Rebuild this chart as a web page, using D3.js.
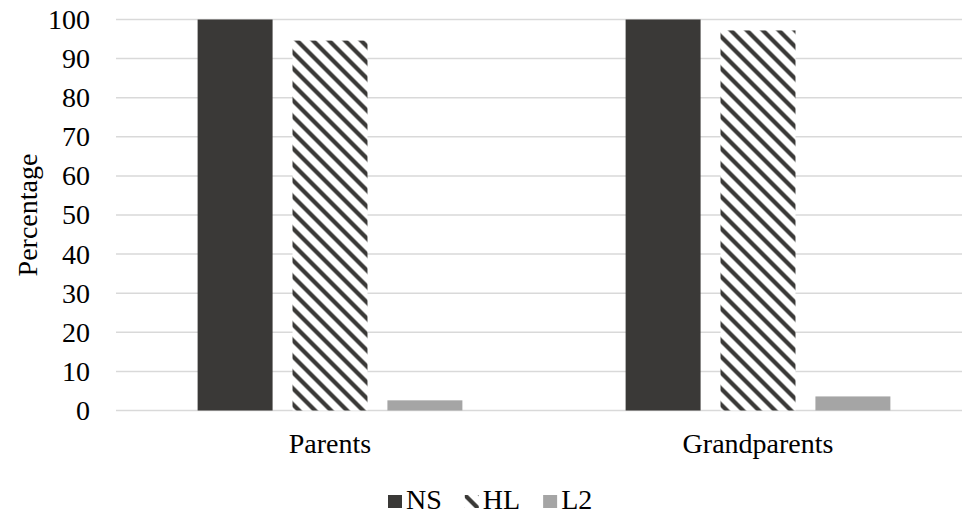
<!DOCTYPE html>
<html>
<head>
<meta charset="utf-8">
<script src="https://cdn.jsdelivr.net/npm/d3@7"></script>
<style>
  body { margin: 0; background: #fff; }
</style>
</head>
<body>
<div id="chart"></div>
<script>
// data
var groups = ["Parents", "Grandparents"];
var seriesNames = ["NS", "HL", "L2"];
var nsValues = [100, 100];
var hlValues = [94.6, 97.2];
var l2Values = [2.6, 3.6];
var yTicks = [0, 10, 20, 30, 40, 50, 60, 70, 80, 90, 100];

var W = 962, H = 517;
var margin = {top: 19.5, left: 116, bottom: 106.5};
var plotW = 856; // the plot runs past the right edge of the picture
var plotH = H - margin.top - margin.bottom;

var svg = d3.select("#chart").append("svg")
  .attr("width", W)
  .attr("height", H)
  .style("font-family", "Liberation Serif")
  .style("font-size", "28px");

// diagonal stripes for HL
var defs = svg.append("defs");
var pat = defs.append("pattern")
  .attr("id", "stripes")
  .attr("patternUnits", "userSpaceOnUse")
  .attr("width", 16)
  .attr("height", 16);
pat.append("rect").attr("width", 16).attr("height", 16).attr("fill", "#fff");
[[0, 0, 16, 16], [-8, 8, 8, 24], [8, -8, 24, 8]].forEach(function(l) {
  pat.append("line")
    .attr("x1", l[0]).attr("y1", l[1]).attr("x2", l[2]).attr("y2", l[3])
    .attr("stroke", "#3a3937")
    .attr("stroke-width", 4.2);
});

var fills = {NS: "#3a3937", HL: "url(#stripes)", L2: "#a5a5a5"};

var g = svg.append("g")
  .attr("transform", "translate(" + margin.left + "," + margin.top + ")");

var y = d3.scaleLinear().domain([0, 100]).range([plotH, 0]);
var x0 = d3.scaleBand().domain(groups).range([0, plotW]);
var x1 = d3.scaleBand().domain(seriesNames)
  .range([0, x0.bandwidth()])
  .paddingInner(0.21)
  .paddingOuter(0.86);

// gridlines
g.selectAll(".grid")
  .data(yTicks)
  .enter().append("line")
  .attr("class", "grid")
  .attr("x1", 0)
  .attr("x2", plotW)
  .attr("y1", function(d) { return y(d); })
  .attr("y2", function(d) { return y(d); })
  .attr("stroke", "#d9d9d9")
  .attr("stroke-width", 1.5);

// y axis labels
var yAxis = g.append("g")
  .call(d3.axisLeft(y).tickValues(yTicks).tickSize(0).tickPadding(26))
  .attr("font-family", "Liberation Serif")
  .attr("font-size", 28);
yAxis.select(".domain").remove();
yAxis.selectAll("text").attr("fill", "#000");

var rows = groups.map(function(grp, i) {
  return {group: grp, values: [nsValues[i], hlValues[i], l2Values[i]]};
});

var grpSel = g.selectAll(".grp")
  .data(rows)
  .enter().append("g")
  .attr("class", "grp")
  .attr("transform", function(d) { return "translate(" + x0(d.group) + ",0)"; });

grpSel.selectAll("rect")
  .data(function(d) {
    return seriesNames.map(function(s, j) { return {key: s, value: d.values[j]}; });
  })
  .enter().append("rect")
  .attr("x", function(d) { return x1(d.key); })
  .attr("width", x1.bandwidth())
  .attr("y", function(d) { return y(d.value); })
  .attr("height", function(d) { return plotH - y(d.value); })
  .attr("fill", function(d) { return fills[d.key]; });

// x axis labels
var xAxis = g.append("g")
  .attr("transform", "translate(0," + plotH + ")")
  .call(d3.axisBottom(x0).tickSize(0).tickPadding(23))
  .attr("font-family", "Liberation Serif")
  .attr("font-size", 28);
xAxis.select(".domain").remove();
xAxis.selectAll("text").attr("fill", "#000");

// y title
svg.append("text")
  .attr("transform", "translate(" + 37 + "," + (margin.top + plotH / 2) + ") rotate(-90)")
  .attr("text-anchor", "middle")
  .text("Percentage");

// legend
var legend = svg.append("g").attr("transform", "translate(388,495)");
var lx = 0;
seriesNames.forEach(function(s) {
  var item = legend.append("g").attr("transform", "translate(" + lx + ",0)");
  item.append("rect")
    .attr("width", 14)
    .attr("height", 13)
    .attr("fill", fills[s]);
  var t = item.append("text")
    .attr("x", 18)
    .attr("y", 14)
    .text(s);
  lx += 18 + t.node().getComputedTextLength() + 23;
});
</script>
</body>
</html>
